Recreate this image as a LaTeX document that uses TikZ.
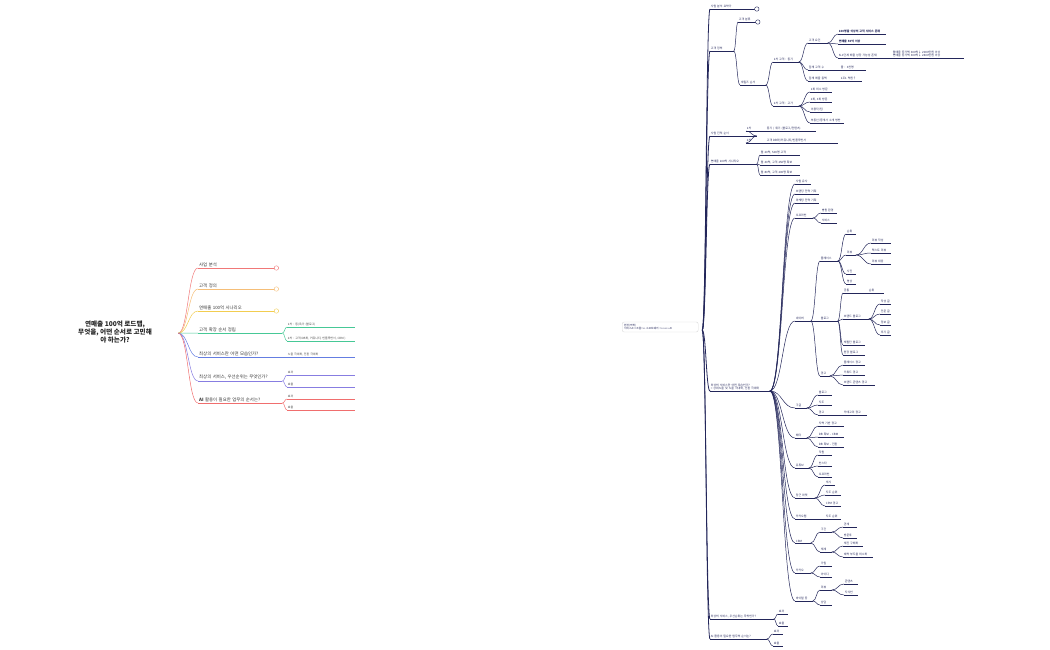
\documentclass[tikz,border=0pt]{standalone}
\usetikzlibrary{calc}
\usepackage{fontspec}
\setmainfont{Noto Sans CJK KR}
\begin{document}
\begin{tikzpicture}[x=1pt,y=-1pt,
  lbl/.style={anchor=south west,inner sep=0.7pt,font=\fontsize{2.9}{3.4}\selectfont,align=left},
  big/.style={font=\fontsize{4.4}{5.4}\selectfont,inner sep=1pt,text=black!80},
  sm/.style={text=black!75},
  br/.style={line width=0.5pt},
  circ/.style={circle,draw,fill=white,inner sep=0pt,minimum size=4.5pt,line width=0.4pt},
  pt/.style={inner sep=0pt,minimum size=0pt}]
\newcommand\mmn[6][]{\node[lbl,#1] (#3) at (#4,#5) {#6};
  \draw[br] let \p1=(#2.south east), \p2=(#3.south west) in
    (\p1) .. controls ({0.5*\x1+0.5*\x2},\y1) and ({0.5*\x1+0.5*\x2},\y2) .. (\p2);
  \draw[br] (#3.south west) -- (#3.south east);}
\useasboundingbox (0,0) rectangle (1050,650);
% ---------- left map ----------
\node[font=\bfseries\fontsize{6.6}{8.4}\selectfont,align=center,text=black!85] (root) at (115,332) {연매출 100억 로드맵,\\무엇을, 어떤 순서로 고민해\\야 하는가?};
\node[pt] (r) at (178,333) {};
\begin{scope}[color={rgb,255:red,240;green,120;blue,120}]
\mmn[big,text width=76pt]{r}{l1}{198}{268}{사업 분석}
\node[circ] (c1) at (l1.south east) {};
\end{scope}
\begin{scope}[color={rgb,255:red,245;green,190;blue,120}]
\mmn[big,text width=76pt]{r}{l2}{198}{289}{고객 정의}
\node[circ] (c2) at (l2.south east) {};
\end{scope}
\begin{scope}[color={rgb,255:red,242;green,205;blue,80}]
\mmn[big,text width=76pt]{r}{l3}{198}{311}{연매출 100억 시나리오}
\node[circ] (c3) at (l3.south east) {};
\end{scope}
\begin{scope}[color={rgb,255:red,70;green,200;blue,150}]
\mmn[big,text width=82pt]{r}{l4}{198}{333}{고객 확장 순서 정립}
\mmn[sm,text width=66pt]{l4}{l41}{287}{327}{1차 : 동/옥가 (블로그)}
\mmn[sm,text width=66pt]{l4}{l42}{287}{341}{2차 : 고객 DB화, 커뮤니티, 인플루언서, CRM )}
\end{scope}
\begin{scope}[color={rgb,255:red,100;green,125;blue,225}]
\mmn[big,text width=82pt]{r}{l5}{198}{357}{최상의 서비스란 어떤 모습인가?}
\mmn[sm,text width=66pt]{l5}{l51}{287}{357}{노출 극대화, 전환 극대화}
\end{scope}
\begin{scope}[color={rgb,255:red,135;green,125;blue,225}]
\mmn[big,text width=82pt]{r}{l6}{198}{381}{최상의 서비스, 우선순위는 무엇인가?}
\mmn[sm,text width=66pt]{l6}{l61}{287}{375}{효과}
\mmn[sm,text width=66pt]{l6}{l62}{287}{387}{효율}
\end{scope}
\begin{scope}[color={rgb,255:red,240;green,110;blue,110}]
\mmn[big,text width=82pt]{r}{l7}{198}{403}{\textbf{AI} 활용이 필요한 업무의 순서는?}
\mmn[sm,text width=66pt]{l7}{l71}{287}{399}{효과}
\mmn[sm,text width=66pt]{l7}{l72}{287}{410}{효율}
\end{scope}
% ---------- right map ----------
\begin{scope}[color={rgb,255:red,35;green,38;blue,90}]
\node[draw=black!15,fill=white,rounded corners=2pt,anchor=west,text width=72pt,font=\fontsize{2.7}{3.6}\selectfont,inner sep=2pt] (rr) at (622,327) {원장(의학)\\서비스A=>조율=>>>> 소프트웨어 =>>>>>>>>>>>> AI};
\node[pt] (ra) at (702,330) {};
\begin{scope}[br/.style={line width=0.8pt}]
\mmn[text width=45pt]{ra}{a1}{710}{9}{사업 분석 요약가}
\mmn[text width=22pt]{ra}{a2}{710}{51}{고객 정의}
\mmn[text width=45pt]{ra}{a3}{710}{136}{사업 진척 순서}
\mmn[text width=45pt]{ra}{a4}{710}{164}{연매출 100억 시나리오}
\mmn[text width=58pt]{ra}{a5}{710}{391}{최상의 서비스란 어떤 모습인가?\\= 상위노출 및 노출 극대화, 전환 극대화}
\mmn[text width=62pt]{ra}{a6}{710}{619}{최상의 서비스, 우선순위는 무엇인가?}
\mmn[text width=55pt]{ra}{a7}{710}{639}{AI 활용이 필요한 업무의 순서는?}
\end{scope}
\node[circ] (ca1) at (a1.south east) {};
\mmn[text width=18pt]{a2}{b1}{738}{22}{고객 분류}
\node[circ] (cb1) at (b1.south east) {};
\mmn[text width=24pt]{a2}{b2}{740}{85}{세일즈 순서}
\mmn[text width=24pt]{b2}{b3}{773}{62}{1차 고객 : 동기}
\mmn[text width=24pt]{b2}{b4}{773}{106}{2차 고객 : 고가}
\mmn[text width=18pt]{b3}{b5}{808}{43}{고객 요건}
\mmn[text width=24pt]{b3}{b6}{808}{70}{잠재 고객 수}
\mmn[text width=24pt]{b3}{b7}{808}{81}{잠재 매출 총액}
\mmn[text width=46pt]{b5}{b8}{838}{34}{\textbf{100명을 이상의 고객 서비스 존재}}
\mmn[text width=46pt]{b5}{b9}{838}{44}{\textbf{연매출 50억 이상}}
\mmn[text width=46pt]{b5}{b10}{838}{58}{N-1단계 매출 성장 가능성 존재}
\mmn[text width=70pt]{b10}{b11}{892}{58}{월매출 증가액 300억↓ 2000만원 이상\\연매출 증가액 300억↓ 2400만원 이상}
\mmn[text width=24pt]{b6}{b12}{840}{70}{풀 : 3천명}
\mmn[text width=20pt]{b7}{b13}{840}{81}{1조1 억원↑}
\mmn[text width=20pt]{b4}{b14}{810}{92}{1회 최소 방문}
\mmn[text width=20pt]{b4}{b15}{810}{102}{2회, 3회 방문}
\mmn[text width=20pt]{b4}{b16}{810}{112}{이용자/팀}
\mmn[text width=32pt]{b4}{b17}{810}{123}{부동산/중개사 소개 방안}
\mmn[text width=12pt]{a3}{c1}{746}{131}{1차}
\mmn[text width=12pt]{a3}{c2}{746}{143}{2차}
\mmn[text width=48pt]{c1}{c3}{766}{131}{동기 / 위기 (블로그/컨텐츠)}
\mmn[text width=70pt]{c2}{c4}{766}{143}{고객 DB화/커뮤니티/인플루언서}
\mmn[text width=38pt]{a4}{d1}{760}{155}{월 20억, 500명 고객}
\mmn[text width=38pt]{a4}{d2}{760}{165}{월 40억, 고객 250명 확보}
\mmn[text width=38pt]{a4}{d3}{760}{175}{월 80억, 고객 200명 확보}
% 최상의 서비스
\mmn[text width=14pt]{a5}{e1}{795}{184}{사업 유사}
\mmn[text width=22pt]{a5}{e2}{795}{194}{브랜딩 전략 기획}
\mmn[text width=22pt]{a5}{e3}{795}{203}{마케팅 전략 기획}
\mmn[text width=16pt]{a5}{e4}{795}{218}{오프라인}
\mmn[text width=14pt]{e4}{e5}{821}{213}{병원 환경}
\mmn[text width=14pt]{e4}{e6}{821}{223}{서비스}
\mmn[text width=14pt]{a5}{f0}{795}{321}{네이버}
\mmn[text width=16pt]{f0}{f1}{820}{261}{플레이스}
\mmn[text width=8pt]{f1}{f2}{846}{234}{순위}
\mmn[text width=8pt]{f1}{f3}{846}{255}{리뷰}
\mmn[text width=18pt]{f3}{f4}{871}{243}{리뷰 작성}
\mmn[text width=18pt]{f3}{f5}{871}{253}{텍스트 리뷰}
\mmn[text width=18pt]{f3}{f6}{871}{264}{리뷰 대응}
\mmn[text width=8pt]{f1}{f7}{846}{274}{사진}
\mmn[text width=8pt]{f1}{f8}{846}{284}{영상}
\mmn[text width=16pt]{f0}{f9}{820}{321}{블로그}
\mmn[text width=14pt]{f9}{f10}{843}{293}{공통}
\mmn[text width=14pt]{f10}{f11}{868}{293}{순위}
\mmn[text width=24pt]{f9}{f12}{843}{319}{브랜드 블로그}
\mmn[text width=9pt]{f12}{f13}{880}{304}{작성 글}
\mmn[text width=9pt]{f12}{f14}{880}{314}{전문 글}
\mmn[text width=9pt]{f12}{f15}{880}{325}{정보 글}
\mmn[text width=9pt]{f12}{f16}{880}{335}{후기 글}
\mmn[text width=20pt]{f9}{f17}{843}{345}{체험단 블로그}
\mmn[text width=20pt]{f9}{f18}{843}{355}{원장 블로그}
\mmn[text width=8pt]{f0}{f19}{820}{376}{광고}
\mmn[text width=20pt]{f19}{f20}{843}{365}{플레이스 광고}
\mmn[text width=20pt]{f19}{f21}{843}{375}{키워드 광고}
\mmn[text width=30pt]{f19}{f22}{843}{385}{브랜드 콘텐츠 광고}
\mmn[text width=10pt]{a5}{g0}{795}{408}{구글}
\mmn[text width=12pt]{g0}{g1}{818}{395}{블로그}
\mmn[text width=12pt]{g0}{g2}{818}{405}{지도}
\mmn[text width=12pt]{g0}{g3}{818}{415}{광고}
\mmn[text width=22pt]{g3}{g4}{843}{415}{카테고리 광고}
\mmn[text width=10pt]{a5}{h0}{795}{438}{메타}
\mmn[text width=24pt]{h0}{h1}{818}{426}{지역 기반 광고}
\mmn[text width=24pt]{h0}{h2}{818}{437}{DB 확보 - CBM}
\mmn[text width=24pt]{h0}{h3}{818}{447}{DB 확보 - 전환}
\mmn[text width=12pt]{a5}{i0}{795}{468}{유튜브}
\mmn[text width=12pt]{i0}{i1}{818}{455}{직원}
\mmn[text width=12pt]{i0}{i2}{818}{466}{인스타}
\mmn[text width=12pt]{i0}{i3}{818}{477}{오프라인}
\mmn[text width=18pt]{a5}{j0}{795}{498}{당근 마켓}
\mmn[text width=8pt]{j0}{j1}{825}{485}{게시}
\mmn[text width=14pt]{j0}{j2}{825}{495}{지도 순위}
\mmn[text width=14pt]{j0}{j3}{825}{506}{CPM 광고}
\mmn[text width=14pt]{a5}{k0}{795}{519}{카카오맵}
\mmn[text width=14pt]{k0}{k1}{825}{519}{지도 순위}
\mmn[text width=14pt]{a5}{m0}{795}{543}{CRM}
\mmn[text width=10pt]{m0}{m1}{820}{532}{구간}
\mmn[text width=10pt]{m0}{m2}{820}{552}{재계}
\mmn[text width=12pt]{m1}{m3}{843}{527}{관계}
\mmn[text width=12pt]{m1}{m4}{843}{538}{방문후}
\mmn[text width=18pt]{m2}{m5}{843}{546}{재진 구매화}
\mmn[text width=28pt]{m2}{m6}{843}{557}{예약 부도율 최소화}
\mmn[text width=14pt]{a5}{n0}{795}{573}{카카오}
\mmn[text width=10pt]{n0}{n1}{820}{566}{가입}
\mmn[text width=10pt]{n0}{n2}{820}{577}{아이디}
\mmn[text width=16pt]{a5}{o0}{795}{601}{바이럴 등}
\mmn[text width=10pt]{o0}{o1}{820}{590}{리뷰}
\mmn[text width=12pt]{o1}{o2}{844}{584}{콘텐츠}
\mmn[text width=12pt]{o1}{o3}{844}{595}{지식인}
\mmn[text width=10pt]{o0}{o4}{820}{605}{상담}
\mmn[text width=8pt]{a6}{p1}{778}{614}{효과}
\mmn[text width=8pt]{a6}{p2}{778}{626}{효율}
\mmn[text width=8pt]{a7}{q1}{773}{634}{효과}
\mmn[text width=8pt]{a7}{q2}{773}{646}{효율}
\end{scope}
\end{tikzpicture}
\end{document}
